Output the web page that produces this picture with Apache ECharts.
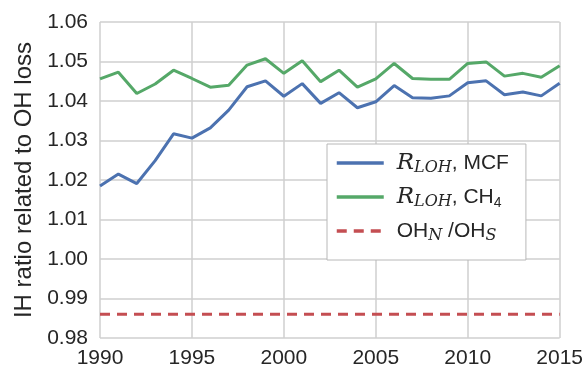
<!DOCTYPE html>
<html>
<head>
<meta charset="utf-8">
<script src="https://cdn.jsdelivr.net/npm/echarts@6/dist/echarts.min.js"></script>
<style>
html,body{margin:0;padding:0;background:#fff;}
#c{width:586px;height:371px;}
</style>
</head>
<body>
<div id="c"></div>
<script>
const years = [1990,1991,1992,1993,1994,1995,1996,1997,1998,1999,2000,2001,2002,2003,2004,2005,2006,2007,2008,2009,2010,2011,2012,2013,2014,2015];
const rlohMCF = [1.0185,1.0215,1.0191,1.0249,1.0317,1.0306,1.0332,1.0377,1.0436,1.0451,1.0412,1.0444,1.0394,1.0421,1.0383,1.0398,1.0439,1.0408,1.0407,1.0413,1.0446,1.0451,1.0416,1.0423,1.0413,1.0445];
const rlohCH4 = [1.0456,1.0473,1.0419,1.0443,1.0478,1.0457,1.0435,1.0440,1.0491,1.0507,1.0470,1.0502,1.0449,1.0478,1.0435,1.0456,1.0495,1.0457,1.0455,1.0455,1.0495,1.0499,1.0463,1.0470,1.0460,1.0489];
const ohRatio = [0.986,0.986,0.986,0.986,0.986,0.986,0.986,0.986,0.986,0.986,0.986,0.986,0.986,0.986,0.986,0.986,0.986,0.986,0.986,0.986,0.986,0.986,0.986,0.986,0.986,0.986];
const xTicks = [1990,1995,2000,2005,2010,2015];
const seriesNames = ['mcf','ch4','oh'];

const pairs = (ys) => years.map((y,i)=>[y, ys[i]]);
const FONT = 'Liberation Sans';
const SERIF = 'DejaVu Serif';
const TXT = '#262626';

const chart = echarts.init(document.getElementById('c'), null, {renderer:'canvas'});
chart.setOption({
  animation:false,
  backgroundColor:'#fff',
  grid:{left:100,right:26,top:22,bottom:33,containLabel:false},
  xAxis:{
    type:'value', min:xTicks[0], max:xTicks[xTicks.length-1], interval:5,
    axisLine:{show:false}, axisTick:{show:false},
    axisLabel:{formatter:v=>String(v), fontFamily:FONT, fontSize:21, color:TXT, margin:10},
    splitLine:{show:true, lineStyle:{color:'#cfcfcf', width:1.5}}
  },
  yAxis:{
    type:'value', min:0.98, max:1.06, interval:0.01,
    name:'IH ratio related to OH loss', nameLocation:'middle', nameGap:63,
    nameTextStyle:{fontFamily:FONT, fontSize:24, color:TXT},
    axisLine:{show:false}, axisTick:{show:false},
    axisLabel:{formatter:v=>v.toFixed(2), fontFamily:FONT, fontSize:21, color:TXT, margin:12},
    splitLine:{show:true, lineStyle:{color:'#cfcfcf', width:1.5}}
  },
  legend:{
    orient:'vertical', left:327, top:144,
    padding:[6,17,16,8], itemGap:8, itemWidth:47, itemHeight:14, itemTextGap:15,
    backgroundColor:'#fff', borderColor:'#b8b8b8', borderWidth:1,
    itemStyle:{opacity:0},
    lineStyle:{width:3.5},
    data:seriesNames,
    formatter:function(name){
      if(name==='mcf') return '{R|R}{sub|LOH}{n|, MCF}';
      if(name==='ch4') return '{R|R}{sub|LOH}{n|, CH}{s4|4}';
      return '{n0|OH}{subi|N}{n| /OH}{subi|S}';
    },
    textStyle:{
      fontFamily:FONT, fontSize:20, color:TXT,
      rich:{
        n:{fontFamily:FONT, fontSize:21, color:TXT, lineHeight:26, verticalAlign:'middle'},
        n0:{fontFamily:FONT, fontSize:21, color:TXT, lineHeight:26, verticalAlign:'middle', padding:[0,0,0,8]},
        R:{fontFamily:SERIF, fontStyle:'italic', fontSize:23, color:TXT, lineHeight:26, verticalAlign:'middle', padding:[0,0,0,8]},
        sub:{fontFamily:SERIF, fontStyle:'italic', fontSize:16, color:TXT, lineHeight:14, verticalAlign:'bottom', padding:[10,0,0,0]},
        subi:{fontFamily:SERIF, fontStyle:'italic', fontSize:16, color:TXT, lineHeight:14, verticalAlign:'bottom', padding:[10,0,0,0]},
        s4:{fontFamily:FONT, fontSize:14, color:TXT, lineHeight:14, verticalAlign:'bottom', padding:[10,0,0,0]}
      }
    }
  },
  series:[
    {name:'mcf', type:'line', data:pairs(rlohMCF), symbol:'none', lineStyle:{color:'#4C72B0', width:3}, itemStyle:{color:'#4C72B0'}, z:3},
    {name:'ch4', type:'line', data:pairs(rlohCH4), symbol:'none', lineStyle:{color:'#55A868', width:3}, itemStyle:{color:'#55A868'}, z:3},
    {name:'oh', type:'line', data:pairs(ohRatio), symbol:'none', lineStyle:{color:'#C44E52', width:3, type:[10,7]}, itemStyle:{color:'#C44E52'}, z:3}
  ]
});
</script>
</body>
</html>
